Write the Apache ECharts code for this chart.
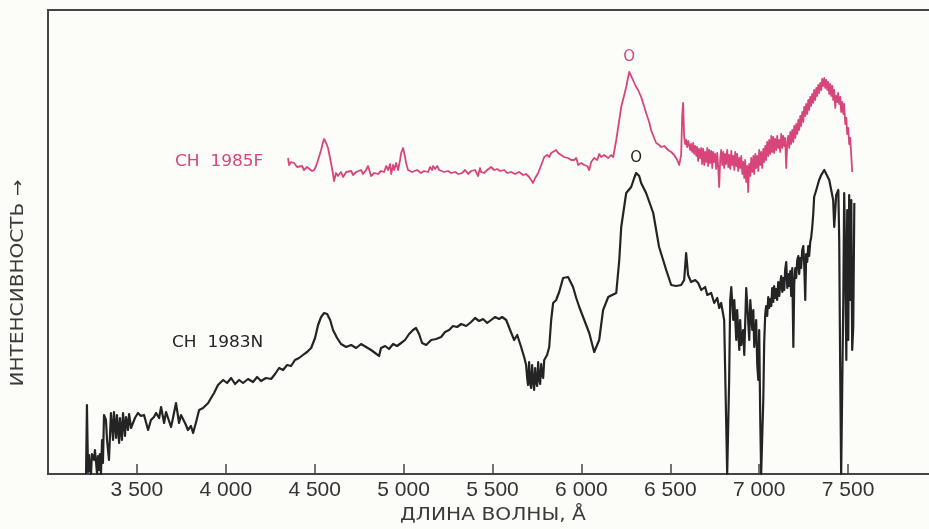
<!DOCTYPE html>
<html>
<head>
<meta charset="utf-8">
<script src="https://cdn.jsdelivr.net/npm/echarts@6/dist/echarts.min.js"></script>
<style>
  html, body { margin: 0; padding: 0; background: #fcfcf8; }
  #chart { width: 929px; height: 529px; }
</style>
</head>
<body>
<div id="chart"></div>
<script>
// Wavelength axis (Å)
const waveMin = 3000;
const waveMax = 8000;
const waveStep = 500;

// Relative intensity, arbitrary units
const intensityMax = 464;

// Series names
const nameBlack = 'СН 1983N';
const nameRed = 'СН 1985F';

// СН 1983N spectrum: [wavelength Å, intensity]
const sn1983n = [
  [3214, 0], [3219, 69], [3225, 2], [3231, 19], [3236, 4], [3242, 0], [3247, 20], [3253, 22], [3259, 14],
  [3264, 24], [3270, 22], [3276, 0], [3281, 18], [3287, 4], [3292, 20], [3298, 0], [3304, 34], [3309, 11],
  [3315, 59], [3326, 54], [3332, 34],
  [3343, 14], [3354, 61], [3366, 34], [3371, 62], [3383, 36], [3388, 59], [3400, 31], [3405, 56],
  [3416, 34], [3422, 61], [3433, 38], [3439, 57], [3450, 44], [3456, 60], [3467, 46], [3478, 44],
  [3489, 56], [3506, 61], [3523, 58], [3540, 59], [3563, 44], [3579, 54], [3596, 57], [3608, 61],
  [3625, 56], [3636, 67], [3653, 51], [3664, 62], [3675, 64], [3692, 47], [3703, 56], [3720, 71],
  [3737, 51], [3748, 59], [3759, 61], [3776, 49], [3787, 44], [3804, 48], [3816, 41], [3833, 52],
  [3850, 64], [3872, 66], [3901, 71], [3917, 76], [3934, 81], [3956, 89], [3985, 94], [4007, 91],
  [4030, 96], [4052, 90], [4075, 94], [4097, 91], [4125, 95], [4153, 92], [4176, 97], [4198, 93],
  [4226, 96], [4255, 95], [4277, 100], [4300, 106], [4322, 104], [4345, 109], [4367, 108], [4389, 114],
  [4412, 116], [4434, 119], [4457, 122], [4480, 126], [4502, 136], [4519, 149], [4536, 157], [4553, 161],
  [4570, 160], [4587, 154], [4603, 144], [4626, 136], [4648, 130], [4677, 127], [4705, 129], [4733, 126],
  [4761, 130], [4789, 127], [4817, 124], [4840, 121], [4862, 118], [4873, 126], [4896, 128], [4918, 125],
  [4941, 130], [4963, 128], [4986, 131], [5008, 134], [5031, 140], [5053, 144], [5070, 146], [5087, 140],
  [5104, 131], [5127, 129], [5155, 134], [5183, 135], [5211, 137], [5233, 142], [5256, 144], [5278, 148],
  [5301, 147], [5324, 150], [5352, 148], [5380, 152], [5402, 156], [5425, 153], [5447, 155], [5470, 151],
  [5492, 154], [5515, 157], [5537, 155], [5554, 157], [5577, 154], [5599, 144], [5622, 134], [5639, 139],
  [5661, 127], [5678, 117], [5689, 109], [5695, 96], [5700, 89], [5706, 112], [5711, 92], [5717, 86],
  [5723, 109], [5728, 94], [5734, 84], [5740, 106], [5745, 92], [5751, 88], [5757, 112], [5762, 95],
  [5768, 90], [5774, 110], [5779, 99], [5785, 96], [5791, 114], [5807, 119],
  [5819, 127], [5830, 154], [5841, 171], [5858, 174], [5875, 182], [5897, 196], [5925, 197], [5953, 187],
  [5971, 176], [5988, 167], [6016, 154], [6044, 141], [6072, 122], [6100, 134], [6122, 164], [6151, 177],
  [6173, 179], [6196, 181], [6213, 214], [6224, 247], [6252, 281], [6280, 287], [6297, 296], [6308, 301],
  [6325, 298], [6336, 291], [6364, 281], [6404, 261], [6437, 227], [6477, 204], [6505, 189], [6533, 188],
  [6561, 189], [6578, 194], [6589, 221], [6600, 199], [6617, 192], [6640, 194], [6657, 191], [6674, 184],
  [6696, 187], [6708, 179], [6730, 181], [6747, 171], [6764, 176], [6775, 166], [6786, 171], [6803, 154],
  [6814, 54], [6820, 0], [6825, 0], [6831, 94], [6837, 174], [6843, 187], [6854, 154], [6860, 174],
  [6871, 134], [6876, 164], [6888, 124], [6893, 154], [6899, 129], [6910, 144], [6916, 119], [6927, 186],
  [6933, 169], [6944, 134], [6950, 174], [6961, 144], [6967, 164], [6972, 127], [6983, 154], [6989, 109],
  [6995, 94], [7000, 144], [7006, 54], [7011, 0], [7017, 0], [7023, 74], [7028, 131], [7034, 160],
  [7039, 168], [7045, 158], [7051, 177], [7056, 166], [7062, 175], [7068, 168], [7073, 186], [7079, 172],
  [7084, 188], [7090, 176], [7096, 185], [7101, 174], [7107, 192], [7113, 178], [7118, 190], [7124, 198],
  [7130, 182], [7135, 196], [7141, 184], [7146, 204], [7152, 212], [7158, 186], [7163, 200], [7169, 188],
  [7175, 203], [7180, 178], [7186, 206], [7192, 127], [7197, 190], [7203, 206], [7208, 196], [7214, 214],
  [7220, 218], [7225, 200], [7231, 216], [7236, 206], [7242, 224], [7248, 228], [7253, 210], [7259, 174],
  [7264, 220], [7270, 212], [7276, 228], [7281, 218], [7287, 232], [7292, 236], [7298, 246], [7304, 260],
  [7309, 277], [7321, 284], [7337, 294],
  [7349, 299], [7366, 304], [7377, 302], [7394, 294], [7405, 284], [7416, 274], [7422, 247], [7428, 264],
  [7433, 279], [7445, 284], [7450, 234], [7456, 94], [7461, 0], [7467, 0], [7473, 174], [7478, 281],
  [7484, 214], [7490, 114], [7495, 264], [7501, 134], [7506, 279], [7512, 174], [7518, 274], [7523, 124],
  [7529, 147], [7535, 271]
];

// СН 1985F spectrum: [wavelength Å, intensity]
const sn1985f = [
  [4350, 316], [4356, 309], [4367, 312], [4384, 311], [4401, 307], [4412, 306], [4429, 308], [4440, 304],
  [4457, 307], [4468, 306], [4485, 303], [4497, 304], [4508, 308], [4519, 314], [4536, 324], [4547, 332],
  [4553, 335], [4564, 331], [4575, 326], [4592, 311], [4603, 300], [4609, 293], [4620, 301], [4631, 298],
  [4648, 302], [4660, 297], [4677, 302], [4688, 300], [4705, 303], [4716, 299], [4733, 302], [4744, 301],
  [4761, 304], [4772, 300], [4789, 304], [4800, 308], [4806, 310], [4817, 298], [4834, 301], [4856, 300],
  [4873, 303], [4890, 302], [4902, 308], [4913, 304], [4924, 310], [4930, 300], [4941, 309], [4947, 304],
  [4958, 311], [4969, 304], [4980, 314], [4986, 321], [4997, 326], [5008, 317], [5014, 311], [5025, 304],
  [5031, 302], [5048, 302], [5059, 301], [5076, 304], [5098, 301], [5115, 303], [5138, 302], [5149, 307],
  [5160, 304], [5166, 308], [5177, 305], [5189, 308], [5200, 304], [5211, 306], [5228, 302], [5250, 303],
  [5267, 301], [5290, 302], [5307, 300], [5329, 301], [5346, 304], [5363, 300], [5380, 303], [5391, 301],
  [5402, 304], [5419, 298], [5430, 306], [5436, 302], [5453, 301], [5470, 304], [5481, 302], [5492, 307],
  [5509, 304], [5526, 305], [5543, 303], [5566, 304], [5582, 301], [5605, 302], [5627, 300], [5650, 302],
  [5672, 299], [5689, 300], [5706, 297], [5717, 294], [5728, 291], [5740, 296], [5757, 301], [5774, 309],
  [5791, 317], [5807, 319], [5819, 317], [5830, 321], [5841, 319], [5858, 324], [5869, 321], [5886, 319],
  [5903, 317], [5925, 316], [5942, 314], [5959, 314], [5971, 316], [5982, 309], [5999, 311], [6016, 309],
  [6033, 308], [6044, 304], [6055, 312], [6072, 316], [6089, 314], [6100, 320], [6111, 317], [6128, 319],
  [6151, 316], [6167, 319], [6179, 317], [6196, 334], [6213, 354], [6224, 367], [6241, 379], [6252, 387],
  [6263, 397], [6269, 402], [6280, 398], [6291, 397], [6308, 387], [6319, 384], [6336, 377], [6347, 371],
  [6364, 361], [6381, 352], [6392, 344], [6409, 336], [6421, 331], [6437, 329], [6449, 327], [6466, 328],
  [6488, 324], [6505, 322], [6522, 319], [6539, 314], [6550, 309], [6561, 319], [6567, 359], [6572, 371],
  [6578, 337], [6584, 330], [6589, 334], [6595, 327], [6601, 333], [6606, 329], [6612, 324], [6617, 330],
  [6623, 322], [6629, 331], [6634, 320], [6640, 328], [6646, 318], [6651, 327], [6657, 313], [6662, 325],
  [6668, 316], [6674, 326], [6679, 310], [6685, 325], [6691, 309], [6696, 322], [6702, 312], [6708, 326],
  [6713, 308], [6719, 324], [6724, 311], [6730, 323], [6736, 306], [6741, 322], [6747, 312], [6752, 320],
  [6758, 305], [6764, 321], [6769, 308], [6775, 287], [6781, 316], [6786, 324], [6792, 309], [6798, 322],
  [6803, 306], [6809, 320], [6814, 310], [6820, 324], [6826, 307], [6831, 319], [6837, 305], [6843, 323],
  [6848, 309], [6854, 318], [6860, 304], [6865, 322], [6871, 308], [6876, 320], [6882, 303], [6888, 316],
  [6893, 306], [6899, 318], [6905, 300], [6910, 312], [6916, 296], [6921, 314], [6927, 292], [6933, 308],
  [6938, 282], [6944, 310], [6950, 298], [6955, 316], [6961, 302], [6967, 318], [6972, 300], [6978, 320],
  [6983, 306], [6989, 318], [6995, 303], [7000, 324], [7006, 309], [7011, 322], [7017, 306], [7023, 325],
  [7028, 312], [7034, 328], [7039, 314], [7045, 332], [7051, 318], [7056, 334], [7062, 320], [7068, 338],
  [7073, 322], [7079, 337], [7084, 321], [7090, 335], [7096, 324], [7101, 338], [7107, 326], [7113, 334],
  [7118, 322], [7124, 340], [7130, 326], [7135, 338], [7141, 328], [7146, 336], [7152, 306], [7158, 332],
  [7163, 338], [7169, 326], [7175, 342], [7180, 330], [7186, 344], [7192, 332], [7197, 348], [7203, 336],
  [7208, 350], [7214, 340], [7220, 354], [7225, 344], [7231, 358], [7236, 348], [7242, 362], [7248, 352],
  [7253, 367], [7259, 358], [7264, 370], [7270, 360], [7276, 374], [7281, 364], [7287, 377], [7292, 368],
  [7298, 380], [7304, 371], [7309, 384], [7315, 374], [7321, 386], [7326, 378], [7332, 389], [7337, 381],
  [7343, 391], [7349, 384], [7354, 395], [7360, 388], [7366, 396], [7371, 386], [7377, 394], [7383, 384],
  [7388, 392], [7394, 380], [7400, 390], [7405, 378], [7411, 388], [7416, 374], [7422, 384], [7428, 366],
  [7433, 378], [7439, 372], [7444, 381], [7450, 370], [7456, 377], [7461, 362], [7467, 372], [7473, 360],
  [7478, 370], [7484, 350], [7490, 356], [7495, 340], [7501, 346], [7506, 330], [7512, 336], [7518, 318],
  [7523, 302]
];

// Emission-line marks: [wavelength, intensity] of the marked peak
const peakBlack = [6308, 301];
const peakRed = [6269, 402];

const colorBlack = '#242424';
const colorRed = '#d8457a';
const colorText = '#3a3a3a';
const titleFont = '"DejaVu Sans", sans-serif';

function formatWave(v) {
  if (v <= waveMin || v >= waveMax) return '';
  const s = String(v);
  return s.slice(0, s.length - 3) + ' ' + s.slice(-3);
}

function peakMark(coord, color) {
  return {
    symbol: 'circle',
    symbolSize: 1,
    itemStyle: { color: 'rgba(0,0,0,0)' },
    label: {
      show: true,
      position: 'top',
      distance: 7,
      formatter: 'O',
      color: color,
      fontFamily: titleFont,
      fontSize: 15
    },
    data: [{ coord: coord }]
  };
}

const chart = echarts.init(document.getElementById('chart'), null, { renderer: 'canvas' });

chart.setOption({
  backgroundColor: '#fcfcf8',
  animation: false,
  grid: {
    left: 48,
    top: 10,
    width: 889,
    height: 464,
    outerBoundsMode: 'none',
    containLabel: false,
    show: true,
    borderColor: '#454545',
    borderWidth: 2,
    backgroundColor: 'transparent'
  },
  xAxis: {
    type: 'value',
    min: waveMin,
    max: waveMax,
    interval: waveStep,
    axisLine: { show: true, lineStyle: { color: '#454545', width: 2 } },
    axisTick: { show: true, inside: true, length: 10, lineStyle: { color: '#454545', width: 1.5 } },
    axisLabel: {
      formatter: formatWave,
      margin: 6,
      color: '#333',
      fontFamily: '"Liberation Sans", Arial, sans-serif',
      fontSize: 21
    },
    splitLine: { show: false }
  },
  yAxis: {
    type: 'value',
    min: 0,
    max: intensityMax,
    axisLine: { show: false },
    axisTick: { show: false },
    axisLabel: { show: false },
    splitLine: { show: false }
  },
  series: [
    {
      name: nameBlack,
      type: 'line',
      data: sn1983n,
      showSymbol: false,
      symbol: 'none',
      lineStyle: { color: colorBlack, width: 2.2, join: 'round' },
      markPoint: peakMark(peakBlack, colorBlack),
      z: 3
    },
    {
      name: nameRed,
      type: 'line',
      data: sn1985f,
      showSymbol: false,
      symbol: 'none',
      lineStyle: { color: colorRed, width: 1.8, join: 'round' },
      markPoint: peakMark(peakRed, colorRed),
      z: 4
    }
  ],
  graphic: [
    {
      type: 'text',
      x: 175, y: 162,
      scaleX: 1.06,
      style: { text: 'СН  1985F', fill: colorRed, font: '16px ' + titleFont, align: 'left', verticalAlign: 'middle' }
    },
    {
      type: 'text',
      x: 172, y: 343,
      scaleX: 1.06,
      style: { text: 'СН  1983N', fill: colorBlack, font: '16px ' + titleFont, align: 'left', verticalAlign: 'middle' }
    },
    {
      type: 'text',
      x: 493, y: 515,
      scaleX: 1.12,
      style: { text: 'ДЛИНА ВОЛНЫ, Å', fill: colorText, font: '18px ' + titleFont, align: 'center', verticalAlign: 'middle' }
    },
    {
      type: 'text',
      x: 19, y: 283,
      rotation: Math.PI / 2,
      scaleX: 1.18,
      style: { text: 'ИНТЕНСИВНОСТЬ →', fill: colorText, font: '17px ' + titleFont, align: 'center', verticalAlign: 'middle' }
    }
  ]
});
</script>
</body>
</html>
